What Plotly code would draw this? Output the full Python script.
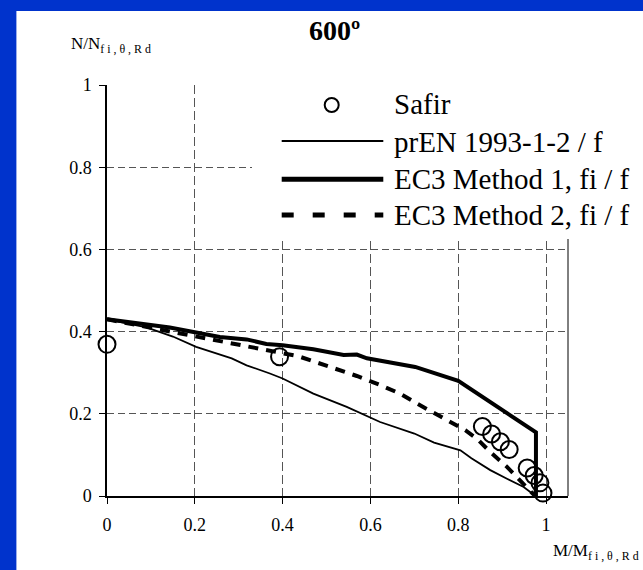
import plotly.graph_objects as go

# ---------------- data ----------------
safir_m = [0.0, 0.393, 0.855, 0.876, 0.896, 0.916, 0.957, 0.973, 0.986, 0.993]
safir_n = [0.369, 0.339, 0.169, 0.151, 0.132, 0.113, 0.068, 0.050, 0.032, 0.007]

pren_m = [0.0, 0.05, 0.09, 0.15, 0.203, 0.284, 0.318, 0.371, 0.40, 0.47, 0.546,
          0.622, 0.70, 0.745, 0.805, 0.83, 0.873, 0.911, 0.949, 0.976]
pren_n = [0.430, 0.419, 0.410, 0.388, 0.363, 0.335, 0.318, 0.298, 0.286, 0.249, 0.217,
          0.180, 0.152, 0.130, 0.111, 0.092, 0.063, 0.042, 0.022, 0.0]

m1_m = [0.0, 0.09, 0.143, 0.203, 0.257, 0.318, 0.363, 0.40, 0.47, 0.539, 0.569,
        0.592, 0.622, 0.702, 0.80, 0.977, 0.977]
m1_n = [0.430, 0.418, 0.410, 0.398, 0.387, 0.381, 0.370, 0.367, 0.357, 0.343, 0.344,
        0.335, 0.329, 0.314, 0.280, 0.155, 0.0]

m2_m = [0.0, 0.143, 0.219, 0.287, 0.356, 0.436, 0.508, 0.569, 0.622, 0.668, 0.706,
        0.748, 0.790, 0.816, 0.842, 0.873, 0.911, 0.941, 0.975]
m2_n = [0.430, 0.400, 0.386, 0.370, 0.357, 0.340, 0.314, 0.292, 0.270, 0.249, 0.225,
        0.201, 0.176, 0.160, 0.140, 0.107, 0.071, 0.038, 0.0]

tick_vals = [0, 0.2, 0.4, 0.6, 0.8, 1]
tick_text = ["0", "0.2", "0.4", "0.6", "0.8", "1"]

series_names = ["Safir", "prEN 1993-1-2 / f", "EC3 Method 1, fi / f", "EC3 Method 2, fi / f"]
title_text = "600º"
y_title = "N/N<sub>f i , θ , R d</sub>"
x_title = "M/M<sub>f i , θ , R d</sub>"

# ---------------- layout geometry ----------------
W, H = 643, 570
L, R, T, B = 107, 75, 85, 74
PW = W - L - R
PH = H - T - B
FONT = "Liberation Serif"
BLUE = "#0033cc"


def px(x):
    return (x - L) / PW


def py(y):
    return (H - B - y) / PH


fig = go.Figure()

fig.add_trace(go.Scatter(x=pren_m, y=pren_n, mode="lines", name=series_names[1],
                         line=dict(color="black", width=1.8), showlegend=False))
fig.add_trace(go.Scatter(x=m1_m, y=m1_n, mode="lines", name=series_names[2],
                         line=dict(color="black", width=4), showlegend=False))
fig.add_trace(go.Scatter(x=m2_m, y=m2_n, mode="lines", name=series_names[3],
                         line=dict(color="black", width=4, dash="10px,8px"), showlegend=False))
fig.add_trace(go.Scatter(x=safir_m, y=safir_n, mode="markers", name=series_names[0],
                         marker=dict(symbol="circle-open", size=17, color="black",
                                     line=dict(color="black", width=2)),
                         cliponaxis=False, showlegend=False))

shapes = [
    # white inner panel over the blue frame
    dict(type="rect", xref="paper", yref="paper", layer="below",
         x0=px(16.4), x1=px(660), y0=py(590), y1=py(11),
         fillcolor="white", line=dict(width=0)),
    # right border of plot area
    dict(type="line", xref="paper", yref="paper", x0=1, x1=1, y0=0, y1=1,
         line=dict(color="black", width=1)),
    # legend background
    dict(type="rect", xref="paper", yref="paper", layer="above",
         x0=px(252), x1=px(640), y0=py(239), y1=py(80),
         fillcolor="white", line=dict(width=0)),
    # legend symbols
    dict(type="circle", xref="paper", yref="paper", layer="above",
         x0=px(324.7), x1=px(338.7), y0=py(112), y1=py(98),
         line=dict(color="black", width=2), fillcolor="rgba(0,0,0,0)"),
    dict(type="line", xref="paper", yref="paper", layer="above",
         x0=px(281.7), x1=px(383.3), y0=py(141), y1=py(141),
         line=dict(color="black", width=2)),
    dict(type="line", xref="paper", yref="paper", layer="above",
         x0=px(281.7), x1=px(383.3), y0=py(179.3), y1=py(179.3),
         line=dict(color="black", width=5)),
    dict(type="line", xref="paper", yref="paper", layer="above",
         x0=px(281.7), x1=px(383.3), y0=py(215), y1=py(215),
         line=dict(color="black", width=5, dash="12px,19px")),
]

annotations = [
    dict(text="<b>" + title_text + "</b>", xref="paper", yref="paper",
         x=px(334), y=py(30.5), xanchor="center", yanchor="middle", showarrow=False,
         font=dict(family=FONT, size=28, color="black")),
    dict(text=y_title, xref="paper", yref="paper", x=px(69), y=py(45),
         xanchor="left", yanchor="middle", showarrow=False,
         font=dict(family=FONT, size=17, color="black")),
    dict(text=x_title, xref="paper", yref="paper", x=px(641), y=py(552),
         xanchor="right", yanchor="middle", showarrow=False,
         font=dict(family=FONT, size=17, color="black")),
]
for name, yy in zip(series_names, [104, 142, 179, 215]):
    annotations.append(dict(text=name, xref="paper", yref="paper", x=px(391.7), y=py(yy),
                            xanchor="left", yanchor="middle", showarrow=False,
                            font=dict(family=FONT, size=29, color="black")))

fig.update_layout(
    width=W, height=H,
    margin=dict(l=L, r=R, t=T, b=B, pad=0),
    paper_bgcolor=BLUE, plot_bgcolor="white",
    showlegend=False,
    font=dict(family=FONT, size=18, color="black"),
    shapes=shapes, annotations=annotations,
    xaxis=dict(range=[0, 1.05], tickvals=tick_vals, ticktext=tick_text,
               showline=True, linecolor="black", linewidth=1.5,
               ticks="outside", ticklen=6, tickcolor="black", tickwidth=1,
               ticklabelstandoff=6,
               showgrid=True, gridcolor="#555", gridwidth=1, griddash="9px,4px",
               zeroline=False, tickfont=dict(family=FONT, size=18, color="black")),
    yaxis=dict(range=[0, 1], tickvals=tick_vals, ticktext=tick_text,
               showline=True, linecolor="black", linewidth=1.5,
               ticks="outside", ticklen=6, tickcolor="black", tickwidth=1,
               ticklabelstandoff=4,
               showgrid=True, gridcolor="#555", gridwidth=1, griddash="7px,4px",
               zeroline=False, tickfont=dict(family=FONT, size=18, color="black")),
)

fig.write_html("out.html")
